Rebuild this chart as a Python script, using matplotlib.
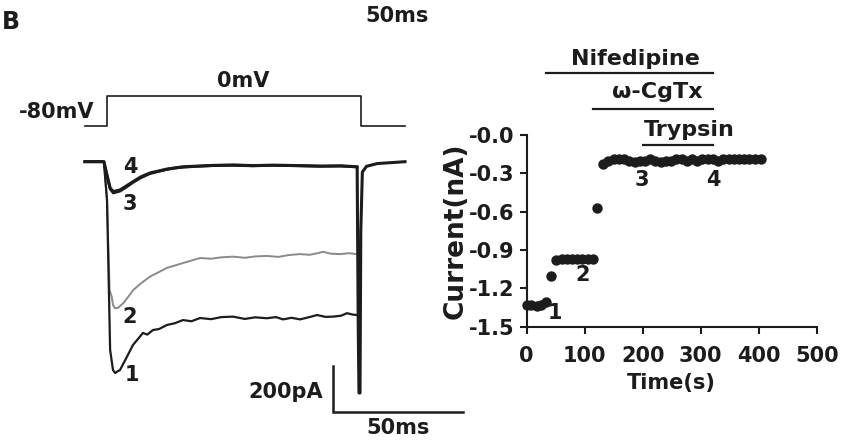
import matplotlib
matplotlib.use("Agg")
import matplotlib.pyplot as plt

# current traces (ms, pA), step onset at t = 0
trace1_t = [-8.5, -1.2, 0.0, 1.2, 2.3, 3.1, 5.0, 7.6, 10.0, 12.0, 13.8, 15.5, 17.7, 20.0, 23.1, 26.0,
            29.2, 32.5, 35.8, 40.0, 44.0, 48.5, 53.0, 57.0, 61.5, 65.0, 67.7, 71.0, 74.2, 77.5, 80.8,
            84.0, 86.9, 90.0, 92.3, 94.5, 96.2]
trace1_pa = [0, 0, -167, -819, -906, -919, -906, -850, -797, -770, -745, -752, -732, -728, -710, -703,
             -689, -694, -680, -685, -676, -674, -684, -677, -681, -676, -686, -679, -686, -677, -667,
             -675, -674, -670, -659, -665, -667]

trace2_t = [-8.5, -1.2, 0.0, 1.0, 1.8, 2.3, 3.1, 4.2, 6.3, 8.0, 10.1, 13.0, 16.5, 20.0, 23.0, 26.0,
            29.2, 32.5, 35.8, 40.0, 44.0, 48.5, 53.0, 57.0, 61.5, 66.0, 70.0, 74.2, 78.0, 81.0, 83.1,
            86.0, 89.6, 93.0, 96.2]
trace2_pa = [0, 0, -170, -558, -587, -623, -638, -636, -615, -590, -558, -530, -500, -480, -462, -452,
             -441, -430, -419, -422, -416, -413, -418, -412, -410, -414, -406, -402, -405, -398, -392,
             -400, -402, -398, -402]

trace3_t = [-8.5, -1.2, 0.0, 1.2, 2.4, 5.0, 7.5, 10.0, 13.0, 16.5, 20.0, 23.0, 26.0, 29.2, 35.0, 41.0,
            48.5, 56.0, 64.0, 74.2, 82.0, 90.0, 96.2]
trace3_pa = [0, 0, -62, -118, -136, -128, -110, -90, -70, -52, -42, -34, -28, -24, -20, -17,
             -16, -18, -16, -18, -20, -19, -23]

trace4_t = [-8.5, -1.2, 0.0, 1.2, 2.4, 5.0, 7.5, 10.0, 13.0, 16.5, 20.0, 23.0, 26.0, 29.2, 35.0, 41.0,
            48.5, 56.0, 64.0, 74.2, 82.0, 90.0, 96.2, 96.6, 96.9, 97.3, 97.6, 98.2, 99.8, 104.0, 114.6]
trace4_pa = [0, 0, -58, -114, -130, -123, -105, -87, -66, -49, -40, -32, -27, -22, -19, -16,
             -14, -17, -15, -17, -19, -18, -22, -700, -1006, -1006, -300, -45, -20, -8, 0]

# voltage protocol
volt_t = [-8.5, 0, 0, 97.5, 97.5, 114.6]
volt_mv = [-80, -80, 0, 0, -80, -80]

SCALE_MS = 50
SCALE_PA = 200

# peak current vs time
time_s = [0, 8, 17, 25, 33, 42, 51, 60, 69, 78, 87, 96, 105, 114, 122, 131,
          141, 150, 159, 168, 177, 186, 195, 204, 213, 222, 231, 240, 249, 258, 267,
          276, 285, 294, 303, 312, 321, 330, 339, 348, 357, 366, 375, 384, 394, 404]
current_na = [-1.33, -1.33, -1.34, -1.33, -1.31, -1.10,
              -0.98, -0.97, -0.97, -0.97, -0.97, -0.97, -0.97, -0.97, -0.57, -0.23,
              -0.20, -0.19, -0.19, -0.19, -0.20, -0.21, -0.20, -0.20, -0.19, -0.20, -0.21,
              -0.20, -0.20, -0.19, -0.19, -0.20, -0.19, -0.20, -0.19, -0.19, -0.19, -0.20,
              -0.19, -0.19, -0.19, -0.19, -0.19, -0.19, -0.19, -0.19]
yticks = [-1.5, -1.2, -0.9, -0.6, -0.3, 0.0]
ytick_labels = ["-1.5", "-1.2", "-0.9", "-0.6", "-0.3", "-0.0"]
xticks = [0, 100, 200, 300, 400, 500]

# drug application bars: (label, start s, end s)
drugs = [("Nifedipine", 33, 321), ("\u03c9-CgTx", 114, 321), ("Trypsin", 201, 321)]

plt.rcParams["font.family"] = "DejaVu Sans"
plt.rcParams["font.weight"] = "bold"
plt.rcParams["axes.labelweight"] = "bold"
INK = "#1c1c1c"
W, H = 848, 442


def px(x, y):
    return x / W, 1 - y / H


fig = plt.figure(figsize=(W / 100, H / 100), dpi=100)

# left: current traces
ax1 = fig.add_axes([60 / W, 1 - 425 / H, 410 / W, 285 / H])
ax1.set_xlim(-18.08, 139.6)
ax1.set_ylim(-1145.4, 94.4)
ax1.axis("off")
ax1.plot(trace2_t, trace2_pa, color="#8a8a8a", lw=1.4)
ax1.plot(trace1_t, trace1_pa, color=INK, lw=1.6)
ax1.plot(trace3_t, trace3_pa, color=INK, lw=2.0)
ax1.plot(trace4_t, trace4_pa, color=INK, lw=2.2)

bar_t, bar_pa = 86.9, -1087.5
ax1.plot([bar_t, bar_t, bar_t + SCALE_MS], [bar_pa + SCALE_PA, bar_pa, bar_pa],
         color=INK, lw=1.8, clip_on=False, solid_joinstyle="miter")

# voltage step above the traces
axv = fig.add_axes([60 / W, 1 - 135 / H, 410 / W, 50 / H])
axv.set_xlim(-18.08, 139.6)
axv.set_ylim(-103.7, 28.2)
axv.axis("off")
axv.plot(volt_t, volt_mv, color=INK, lw=1.2)

fig.text(*px(11, 22), "B", fontsize=17, ha="center", va="center", color=INK)
fig.text(*px(397, 16), "50ms", fontsize=15, ha="center", va="center", color=INK)
fig.text(*px(243, 81), "0mV", fontsize=15, ha="center", va="center", color=INK)
fig.text(*px(57, 112), "-80mV", fontsize=15, ha="center", va="center", color=INK)
fig.text(*px(130, 167), "4", fontsize=15, ha="center", va="center", color=INK)
fig.text(*px(130, 204), "3", fontsize=15, ha="center", va="center", color=INK)
fig.text(*px(130, 317), "2", fontsize=15, ha="center", va="center", color=INK)
fig.text(*px(132, 375), "1", fontsize=15, ha="center", va="center", color=INK)
fig.text(*px(323, 392), f"{SCALE_PA}pA", fontsize=15, ha="right", va="center", color=INK)
fig.text(*px(398, 428), f"{SCALE_MS}ms", fontsize=15, ha="center", va="center", color=INK)

# right: current over time
ax2 = fig.add_axes([526.7 / W, 1 - 326.7 / H, 290 / W, 191.7 / H])
ax2.scatter(time_s, current_na, s=56, color=INK, zorder=3, clip_on=False, linewidths=0)
ax2.set_xlim(0, 500)
ax2.set_ylim(-1.5, 0.0)
ax2.set_xticks(xticks)
ax2.set_yticks(yticks)
ax2.set_yticklabels(ytick_labels)
for side in ["top", "right"]:
    ax2.spines[side].set_visible(False)
for side in ["left", "bottom"]:
    ax2.spines[side].set_linewidth(1.5)
    ax2.spines[side].set_color(INK)
ax2.tick_params(direction="out", length=5, width=1.5, labelsize=15, colors=INK)
ax2.tick_params(axis="x", pad=9)
ax2.tick_params(axis="y", pad=4)
ax2.set_xlabel("Time(s)", fontsize=15, color=INK, labelpad=5)
ax2.set_ylabel("Current(nA)", fontsize=19, color=INK, labelpad=0)

bar_levels = [0.487, 0.201, -0.078]
text_levels = [0.548, 0.287, -0.008]
for (name, t0, t1), yl in zip(drugs, bar_levels):
    ax2.plot([t0, t1], [yl, yl], color=INK, lw=1.6, clip_on=False)
for (name, t0, t1), yt, xc in zip(drugs, text_levels, [188, 225, 280]):
    ax2.text(xc, yt, name, fontsize=16, ha="center", va="baseline", color=INK)

ax2.text(49, -1.39, "1", fontsize=15, ha="center", va="center", color=INK)
ax2.text(96, -1.095, "2", fontsize=15, ha="center", va="center", color=INK)
ax2.text(199, -0.352, "3", fontsize=15, ha="center", va="center", color=INK)
ax2.text(322, -0.352, "4", fontsize=15, ha="center", va="center", color=INK)

fig.savefig("out.png", dpi=100)
